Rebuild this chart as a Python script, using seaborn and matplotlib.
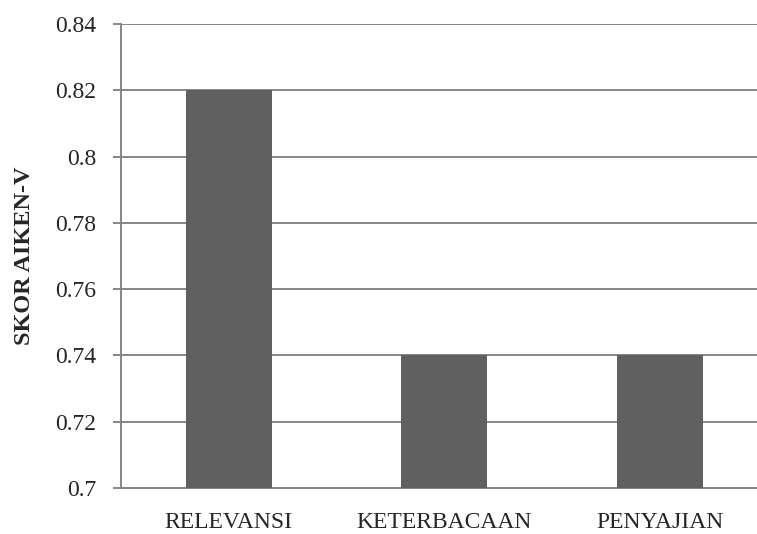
import matplotlib
matplotlib.use("Agg")
import matplotlib.pyplot as plt
import seaborn as sns
import pandas as pd

categories = ["RELEVANSI", "KETERBACAAN", "PENYAJIAN"]
scores = [0.82, 0.74, 0.74]
y_ticks = [0.7, 0.72, 0.74, 0.76, 0.78, 0.8, 0.82, 0.84]
y_tick_labels = ["0.7", "0.72", "0.74", "0.76", "0.78", "0.8", "0.82", "0.84"]
y_label = "SKOR AIKEN-V"

sns.set_style("white")
plt.rcParams["font.family"] = ["Liberation Serif", "DejaVu Serif"]

df = pd.DataFrame({"kategori": categories, "skor": scores})

fig = plt.figure(figsize=(7.57, 5.34), dpi=100)
ax = fig.add_axes([0.1598, 0.0861, 0.854, 0.869])

grid_color = "#868686"
sns.barplot(data=df, x="kategori", y="skor", color="#606060", width=0.4,
            saturation=1, linewidth=0, edgecolor="none", ax=ax, zorder=3)

ax.set_ylim(0.7, 0.84)
ax.set_yticks(y_ticks)
ax.set_yticklabels(y_tick_labels)
ax.set_xlim(-0.5, 2.5)
ax.yaxis.grid(True, color=grid_color, linewidth=1.4, zorder=0)
ax.set_axisbelow(True)

for side in ["top", "right"]:
    ax.spines[side].set_visible(False)
for side in ["left", "bottom"]:
    ax.spines[side].set_color(grid_color)
    ax.spines[side].set_linewidth(1.4)

ax.tick_params(axis="y", direction="out", length=6, width=1.4, color=grid_color,
               pad=12, labelsize=17, left=True)
ax.tick_params(axis="x", length=0, pad=17, labelsize=17)

ax.set_xlabel("")
ax.set_ylabel(y_label, fontsize=17.5, fontweight="bold", labelpad=14)

fig.savefig("out.png", dpi=100)
